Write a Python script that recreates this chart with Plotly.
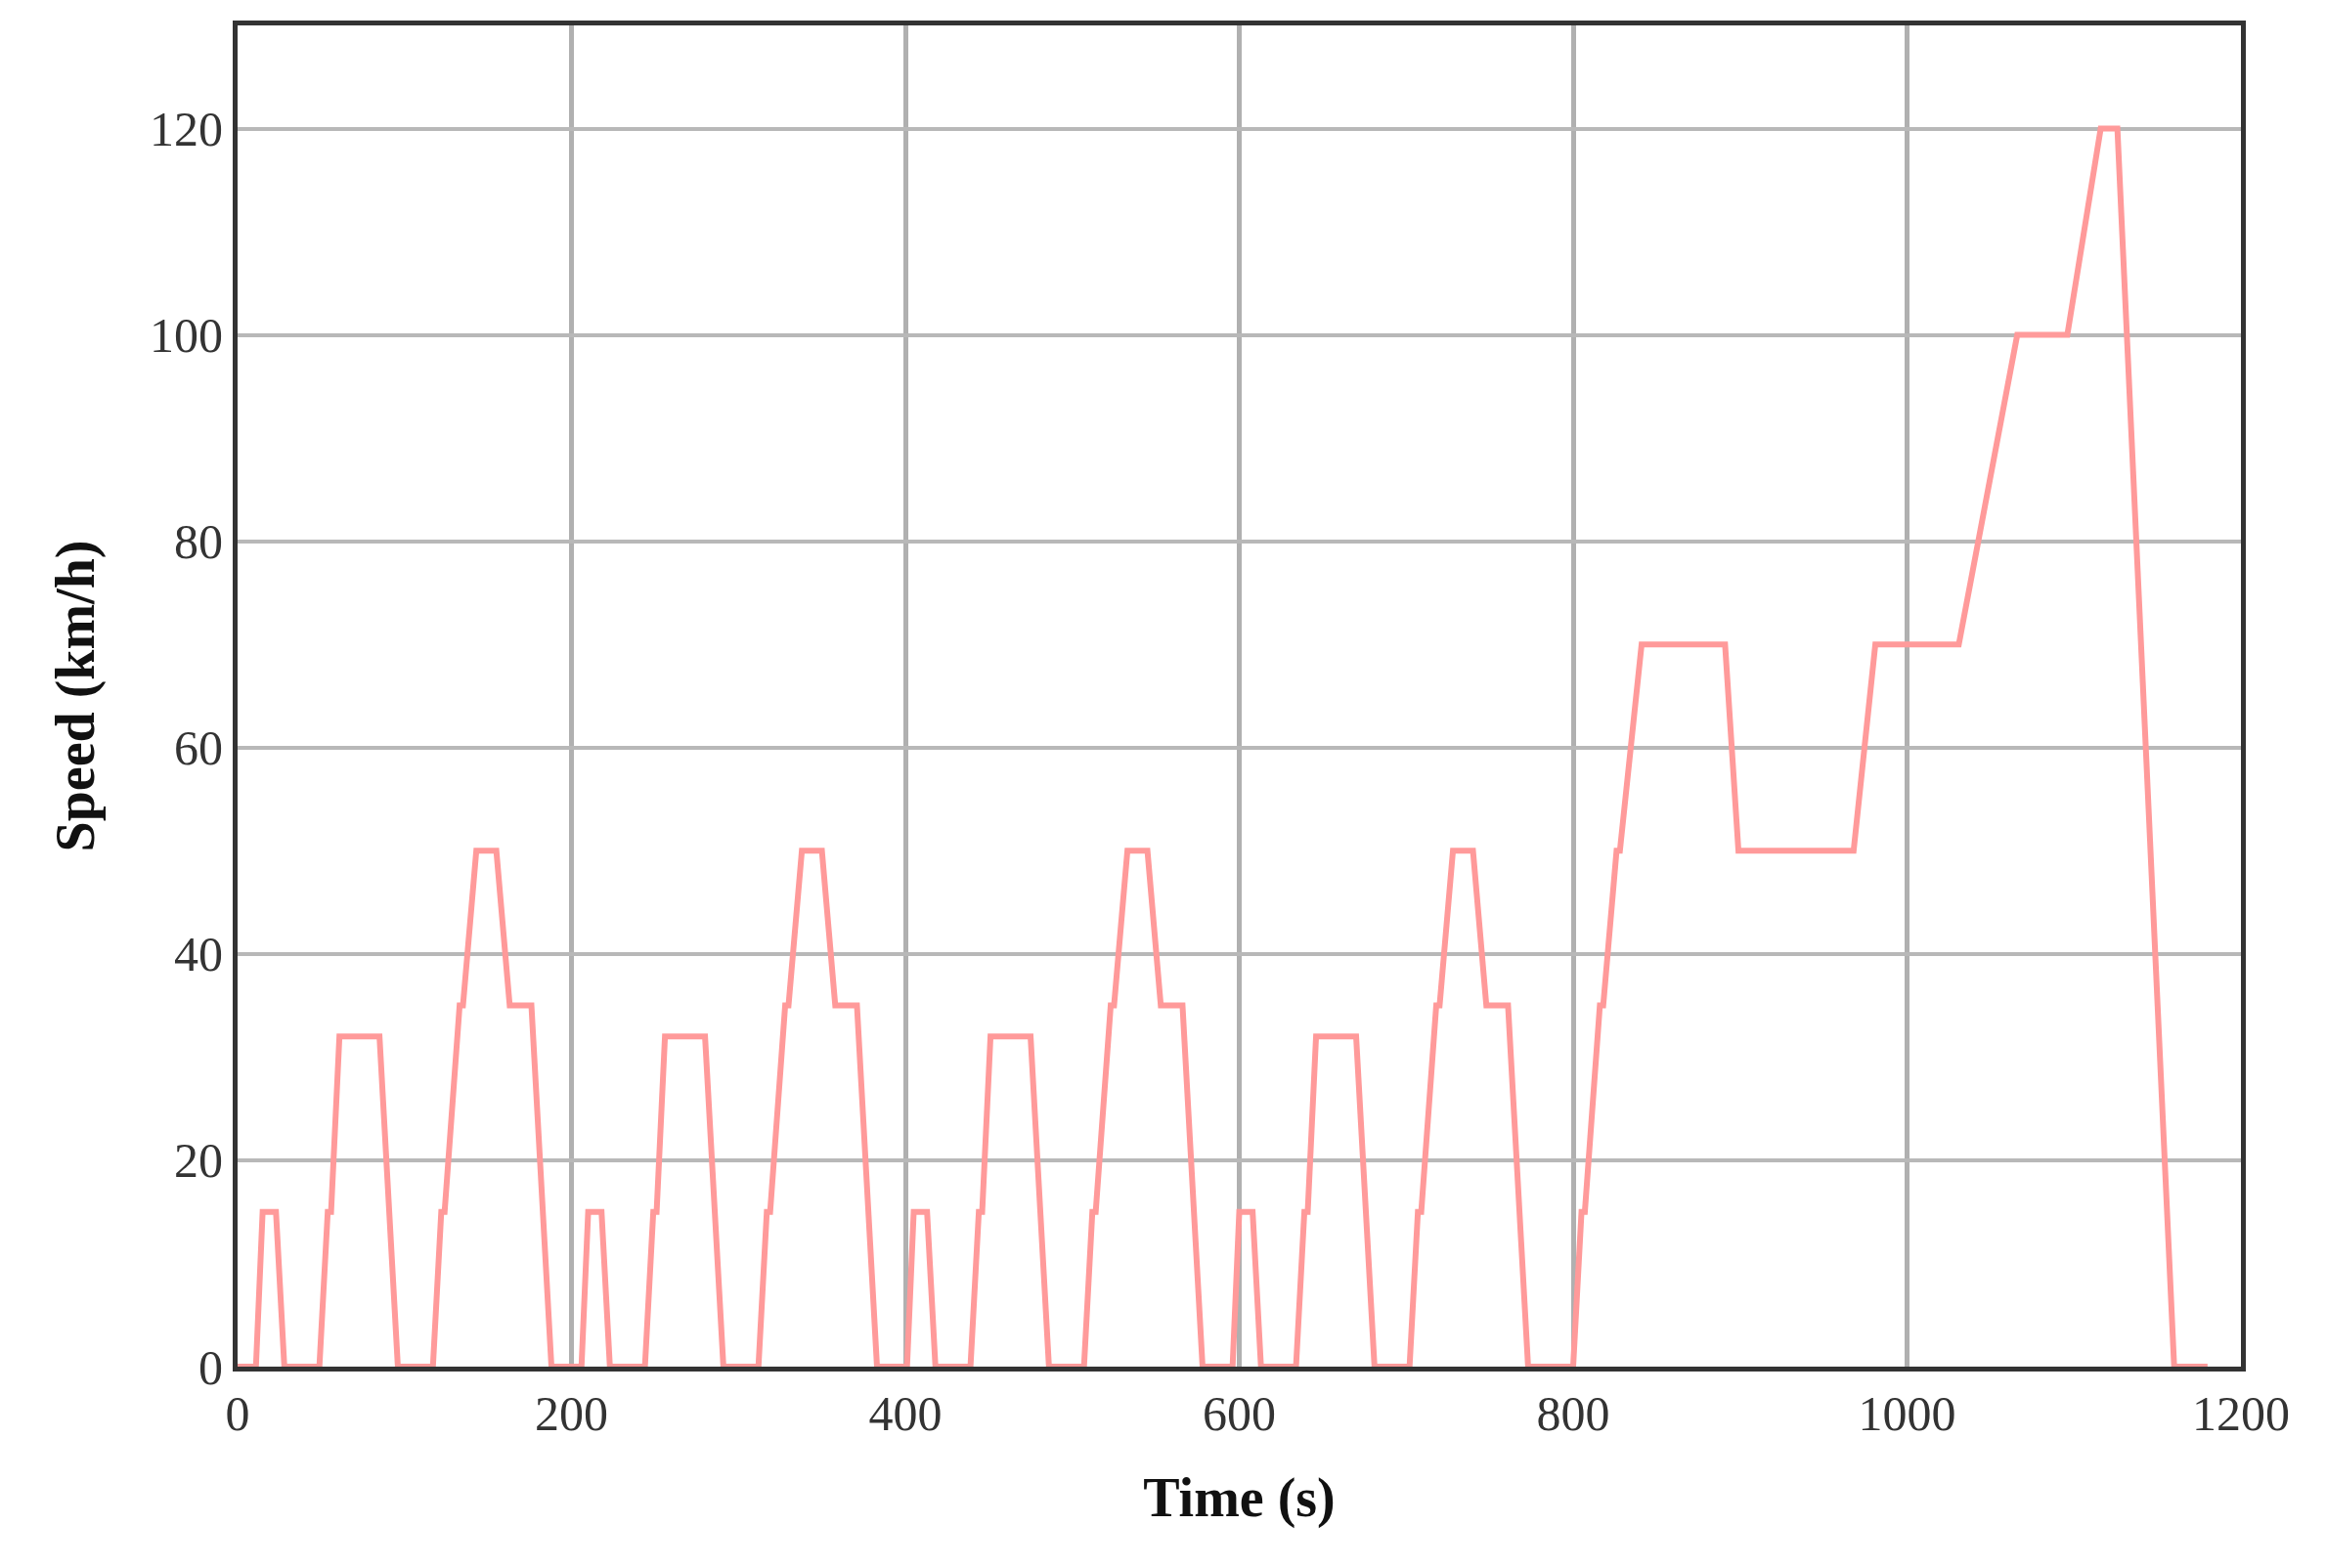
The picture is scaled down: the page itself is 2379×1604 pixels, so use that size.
import plotly.graph_objects as go

ece_t = [0, 11, 15, 23, 28, 49, 54, 56, 61, 85, 96, 117, 122, 124, 133, 135, 143, 155, 163, 176, 188, 195]
ece_v = [0, 0, 15, 15, 0, 0, 15, 15, 32, 32, 0, 0, 15, 15, 35, 35, 50, 50, 35, 35, 0, 0]
eudc_t = [0, 20, 25, 27, 36, 38, 46, 48, 61, 111, 119, 188, 201, 251, 286, 316, 336, 346, 380, 400]
eudc_v = [0, 0, 15, 15, 35, 35, 50, 50, 70, 70, 50, 50, 70, 70, 100, 100, 120, 120, 0, 0]

time, speed = [], []
for k in range(4):
    time += [t + 195 * k for t in ece_t]
    speed += ece_v
time += [t + 780 for t in eudc_t]
speed += eudc_v

fig = go.Figure(go.Scatter(x=time, y=speed, mode="lines",
                           line=dict(color="#ff9a9a", width=6), showlegend=False))
font = "Liberation Serif, DejaVu Serif, serif"
fig.update_layout(
    width=2379, height=1604, paper_bgcolor="white", plot_bgcolor="white",
    margin=dict(l=235, r=95, t=18, b=214),
    font=dict(family=font, size=50, color="#333"),
)
fig.update_xaxes(range=[0, 1200], dtick=200, showgrid=True, gridcolor="#b0b0b0", gridwidth=5,
                 showline=True, linecolor="#333", linewidth=5, mirror=True, zeroline=False,
                 ticks="", tickfont=dict(size=50), layer="above traces",
                 title=dict(text="<b>Time (s)</b>", font=dict(size=56, color="#111"), standoff=40))
fig.update_yaxes(range=[0, 130], tickvals=[0, 20, 40, 60, 80, 100, 120], showgrid=True,
                 gridcolor="#b8b8b8", gridwidth=4, showline=True, linecolor="#333", linewidth=5,
                 mirror=True, zeroline=False, ticks="", tickfont=dict(size=50), layer="above traces",
                 title=dict(text="<b>Speed (km/h)</b>", font=dict(size=56, color="#111"), standoff=40))
fig.write_html("out.html")
